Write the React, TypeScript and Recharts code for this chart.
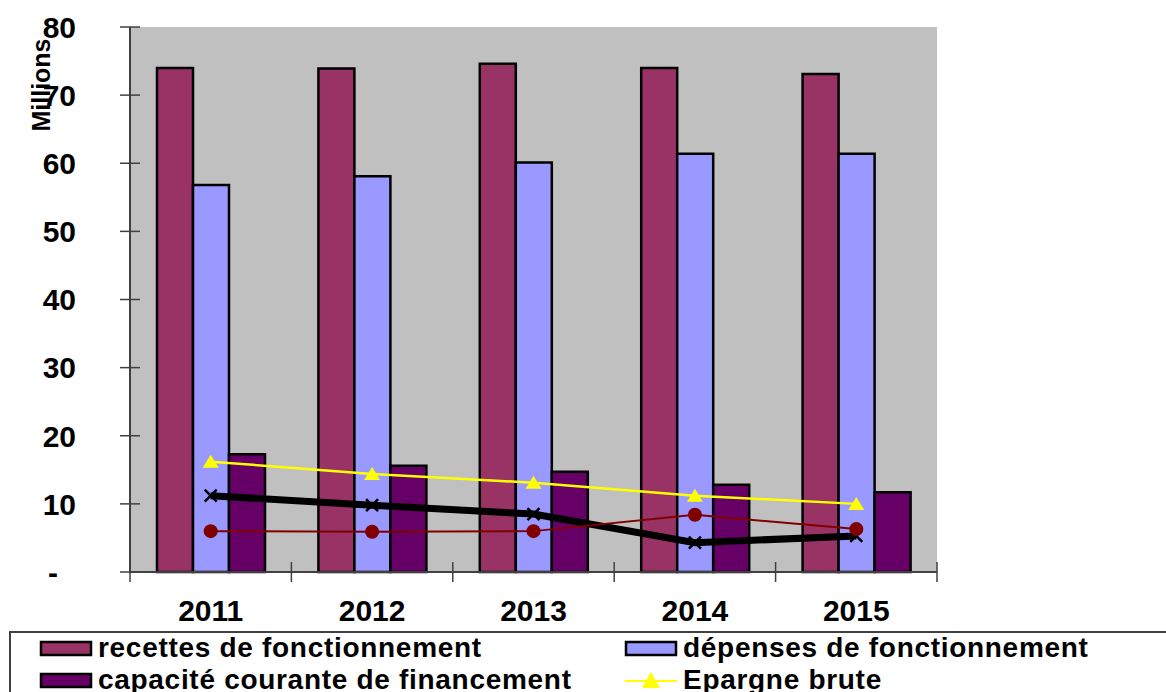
import React from "react";
import { ComposedChart, Bar, Line, XAxis, YAxis, CartesianGrid } from "recharts";

// ---------------------------------------------------------------------------
// Données (en millions)
// ---------------------------------------------------------------------------
const years = ["2011", "2012", "2013", "2014", "2015"];
const recettes = [74.0, 73.9, 74.6, 74.0, 73.1];
const depenses = [56.8, 58.1, 60.1, 61.4, 61.4];
const capacite = [17.3, 15.6, 14.7, 12.8, 11.7];
const epargneBrute = [16.2, 14.4, 13.1, 11.2, 10.0];
const serieNoire = [11.2, 9.8, 8.5, 4.3, 5.3];
const serieRouge = [6.0, 5.9, 6.0, 8.4, 6.3];
const yTicks = [0, 10, 20, 30, 40, 50, 60, 70, 80];

const data = years.map((year, i) => ({
  year,
  recettes: recettes[i],
  depenses: depenses[i],
  capacite: capacite[i],
  epargneBrute: epargneBrute[i],
  serieNoire: serieNoire[i],
  serieRouge: serieRouge[i],
}));

// ---------------------------------------------------------------------------
// Mise en page
// ---------------------------------------------------------------------------
const W = 1166;
const H = 692;
const MARGIN = { top: 27, right: 229, bottom: 80, left: 0 };
const Y_AXIS_W = 130;
const PLOT_W = W - MARGIN.left - MARGIN.right - Y_AXIS_W;
const FONT = "'Liberation Sans', Arial, Helvetica, sans-serif";
const AXIS_COLOR = "#404040";

const COLORS = {
  recettes: "#993366",
  depenses: "#9999FF",
  capacite: "#660066",
  epargneBrute: "#FFFF00",
  serieNoire: "#000000",
  serieRouge: "#800000",
};

// Graduations qui traversent l'axe (style Excel)
const XTick = (props: any) => {
  const { x, y, payload, index } = props;
  const half = PLOT_W / years.length / 2;
  return (
    <g>
      <line x1={x - half} x2={x - half} y1={y - 10} y2={y + 10} stroke={AXIS_COLOR} strokeWidth={1.5} />
      {index === years.length - 1 && (
        <line x1={x + half} x2={x + half} y1={y - 10} y2={y + 10} stroke={AXIS_COLOR} strokeWidth={1.5} />
      )}
      <text x={x} y={y + 49} textAnchor="middle" fontFamily={FONT} fontWeight="bold" fontSize={30} fill="#000">
        {payload.value}
      </text>
    </g>
  );
};

const YTick = (props: any) => {
  const { x, y, payload } = props;
  const isZero = payload.value === 0;
  return (
    <g>
      <line x1={x - 10} x2={x + 10} y1={y} y2={y} stroke={AXIS_COLOR} strokeWidth={1.5} />
      <text
        x={isZero ? x - 72 : x - 54}
        y={y}
        dy="0.36em"
        textAnchor="end"
        fontFamily={FONT}
        fontWeight="bold"
        fontSize={30}
        fill="#000"
      >
        {isZero ? "-" : payload.value}
      </text>
    </g>
  );
};

const MillionsLabel = (props: any) => {
  const { viewBox } = props;
  const cx = viewBox.x + 50;
  const cy = viewBox.y + 58;
  return (
    <text
      x={cx}
      y={cy}
      transform={`rotate(-90 ${cx} ${cy})`}
      textAnchor="middle"
      fontFamily={FONT}
      fontWeight="bold"
      fontSize={25}
      fill="#000"
    >
      Millions
    </text>
  );
};

// Marqueurs des courbes
const TriangleDot = (props: any) => {
  const { cx, cy, fill } = props;
  if (cx == null || cy == null) return <g />;
  return <path d={`M${cx},${cy - 7} L${cx + 8},${cy + 6} L${cx - 8},${cy + 6} Z`} fill={fill} />;
};

const CrossDot = (props: any) => {
  const { cx, cy } = props;
  if (cx == null || cy == null) return <g />;
  const s = 6;
  return (
    <path
      d={`M${cx - s},${cy - s} L${cx + s},${cy + s} M${cx - s},${cy + s} L${cx + s},${cy - s}`}
      stroke="#000"
      strokeWidth={2.5}
    />
  );
};

const CircleDot = (props: any) => {
  const { cx, cy, fill } = props;
  if (cx == null || cy == null) return <g />;
  return <circle cx={cx} cy={cy} r={7} fill={fill} />;
};

const legendItems = [
  { label: "recettes de fonctionnement", color: COLORS.recettes, kind: "bar", x: 41, y: 657 },
  { label: "dépenses de fonctionnement", color: COLORS.depenses, kind: "bar", x: 626, y: 657 },
  { label: "capacité courante de financement", color: COLORS.capacite, kind: "bar", x: 41, y: 689 },
  { label: "Epargne brute", color: COLORS.epargneBrute, kind: "line", x: 626, y: 689 },
];

const LegendBox = () => (
  <svg width={W} height={H} style={{ position: "absolute", left: 0, top: 0, pointerEvents: "none" }}>
    <path d={`M10,${H} V632 H${W}`} fill="none" stroke={AXIS_COLOR} strokeWidth={2} />
    {legendItems.map((item) => (
      <g key={item.label}>
        {item.kind === "bar" ? (
          <rect x={item.x} y={item.y - 15} width={50} height={13} fill={item.color} stroke="#000" strokeWidth={2.5} />
        ) : (
          <g>
            <line x1={item.x - 1} x2={item.x + 51} y1={item.y - 8} y2={item.y - 8} stroke={item.color} strokeWidth={2} />
            <path
              d={`M${item.x + 25},${item.y - 17} L${item.x + 34},${item.y - 1} L${item.x + 16},${item.y - 1} Z`}
              fill={item.color}
            />
          </g>
        )}
        <text
          x={item.x + 57}
          y={item.y}
          fontFamily={FONT}
          fontWeight="bold"
          fontSize={28}
          letterSpacing={0.7}
          fill="#000"
        >
          {item.label}
        </text>
      </g>
    ))}
  </svg>
);

export default function App() {
  return (
    <div style={{ position: "absolute", left: 0, top: 0, width: W, height: H, overflow: "hidden", background: "#fff" }}>
      <ComposedChart width={W} height={H} data={data} margin={MARGIN} barGap={0} barSize={36}>
        <CartesianGrid fill="#C0C0C0" horizontal={false} vertical={false} />
        {/* cadre gris haut et droite de la zone de traçage */}
        <XAxis
          xAxisId="cadre"
          orientation="top"
          dataKey="year"
          height={0}
          tick={false}
          tickLine={false}
          axisLine={{ stroke: "#808080", strokeWidth: 2 }}
        />
        <YAxis
          yAxisId="cadre"
          orientation="right"
          width={0}
          domain={[0, 80]}
          tick={false}
          tickLine={false}
          axisLine={{ stroke: "#808080", strokeWidth: 3 }}
        />
        <XAxis
          dataKey="year"
          interval={0}
          height={40}
          tickSize={0}
          tickMargin={0}
          tickLine={false}
          tick={<XTick />}
          axisLine={{ stroke: AXIS_COLOR, strokeWidth: 2 }}
        />
        <YAxis
          width={Y_AXIS_W}
          domain={[0, 80]}
          ticks={yTicks}
          interval={0}
          tickSize={0}
          tickMargin={0}
          tickLine={false}
          tick={<YTick />}
          axisLine={{ stroke: AXIS_COLOR, strokeWidth: 2 }}
          label={<MillionsLabel />}
        />
        <Bar dataKey="recettes" fill={COLORS.recettes} stroke="#000" strokeWidth={2.5} isAnimationActive={false} />
        <Bar dataKey="depenses" fill={COLORS.depenses} stroke="#000" strokeWidth={2.5} isAnimationActive={false} />
        <Bar dataKey="capacite" fill={COLORS.capacite} stroke="#000" strokeWidth={2.5} isAnimationActive={false} />
        <Line
          type="linear"
          dataKey="serieNoire"
          stroke={COLORS.serieNoire}
          strokeWidth={7}
          dot={<CrossDot />}
          activeDot={false}
          isAnimationActive={false}
        />
        <Line
          type="linear"
          dataKey="serieRouge"
          stroke={COLORS.serieRouge}
          strokeWidth={2}
          dot={<CircleDot fill={COLORS.serieRouge} />}
          activeDot={false}
          isAnimationActive={false}
        />
        <Line
          type="linear"
          dataKey="epargneBrute"
          stroke={COLORS.epargneBrute}
          strokeWidth={2.5}
          dot={<TriangleDot fill={COLORS.epargneBrute} />}
          activeDot={false}
          isAnimationActive={false}
        />
      </ComposedChart>
      <LegendBox />
    </div>
  );
}
